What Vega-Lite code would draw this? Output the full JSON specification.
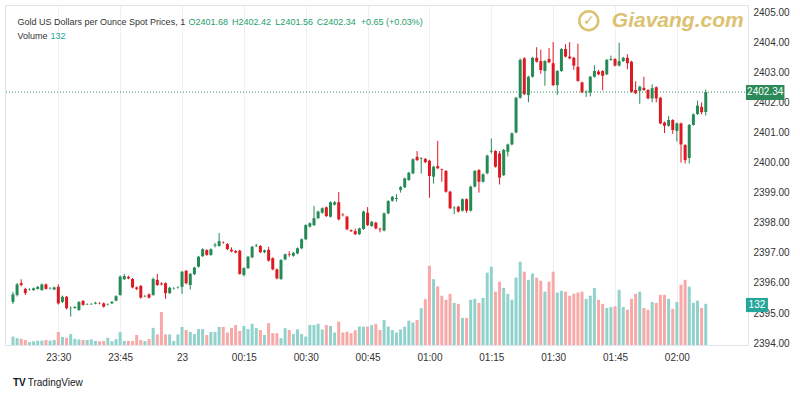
{
"$schema": "https://vega.github.io/schema/vega-lite/v6.json",
"width": 743, "height": 340,
"autosize": {"type": "none"},
"padding": {"left": 5, "top": 5, "right": 52, "bottom": 55},
"background": "white",
"config": {"view": {"stroke": "#e0e3eb"}, "font": "Liberation Sans", "axisY": {"tickCount": 12, "labelOverlap": false, "gridColor": "#f0f0f0"}},
"data": {"values": [
{"t":"2024-07-22T23:19Z","o":2395.37,"h":2395.70,"l":2395.30,"c":2395.62,"v":27},
{"t":"2024-07-22T23:20Z","o":2395.60,"h":2396.00,"l":2395.55,"c":2395.95,"v":22},
{"t":"2024-07-22T23:21Z","o":2395.99,"h":2396.12,"l":2395.88,"c":2395.93,"v":20},
{"t":"2024-07-22T23:22Z","o":2395.80,"h":2395.84,"l":2395.60,"c":2395.66,"v":16},
{"t":"2024-07-22T23:23Z","o":2395.77,"h":2395.82,"l":2395.74,"c":2395.78,"v":10},
{"t":"2024-07-22T23:24Z","o":2395.76,"h":2395.85,"l":2395.74,"c":2395.82,"v":12},
{"t":"2024-07-22T23:25Z","o":2395.80,"h":2395.90,"l":2395.78,"c":2395.87,"v":14},
{"t":"2024-07-22T23:26Z","o":2395.76,"h":2395.98,"l":2395.74,"c":2395.95,"v":14},
{"t":"2024-07-22T23:27Z","o":2395.95,"h":2395.98,"l":2395.78,"c":2395.80,"v":16},
{"t":"2024-07-22T23:28Z","o":2395.81,"h":2395.86,"l":2395.78,"c":2395.82,"v":14},
{"t":"2024-07-22T23:29Z","o":2395.78,"h":2395.88,"l":2395.76,"c":2395.85,"v":16},
{"t":"2024-07-22T23:30Z","o":2395.87,"h":2395.95,"l":2395.28,"c":2395.32,"v":42},
{"t":"2024-07-22T23:31Z","o":2395.37,"h":2395.58,"l":2395.33,"c":2395.54,"v":26},
{"t":"2024-07-22T23:32Z","o":2395.54,"h":2395.57,"l":2395.12,"c":2395.16,"v":23},
{"t":"2024-07-22T23:33Z","o":2395.16,"h":2395.22,"l":2394.88,"c":2395.17,"v":35},
{"t":"2024-07-22T23:34Z","o":2395.17,"h":2395.23,"l":2395.14,"c":2395.20,"v":20},
{"t":"2024-07-22T23:35Z","o":2395.10,"h":2395.40,"l":2395.07,"c":2395.36,"v":18},
{"t":"2024-07-22T23:36Z","o":2395.40,"h":2395.43,"l":2395.24,"c":2395.27,"v":16},
{"t":"2024-07-22T23:37Z","o":2395.28,"h":2395.32,"l":2395.26,"c":2395.29,"v":16},
{"t":"2024-07-22T23:38Z","o":2395.29,"h":2395.33,"l":2395.27,"c":2395.30,"v":18},
{"t":"2024-07-22T23:39Z","o":2395.31,"h":2395.37,"l":2395.29,"c":2395.34,"v":13},
{"t":"2024-07-22T23:40Z","o":2395.33,"h":2395.36,"l":2395.29,"c":2395.32,"v":12},
{"t":"2024-07-22T23:41Z","o":2395.32,"h":2395.35,"l":2395.18,"c":2395.21,"v":13},
{"t":"2024-07-22T23:42Z","o":2395.28,"h":2395.32,"l":2395.25,"c":2395.29,"v":23},
{"t":"2024-07-22T23:43Z","o":2395.32,"h":2395.40,"l":2395.30,"c":2395.37,"v":12},
{"t":"2024-07-22T23:44Z","o":2395.41,"h":2395.59,"l":2395.39,"c":2395.56,"v":19},
{"t":"2024-07-22T23:45Z","o":2395.60,"h":2396.25,"l":2395.57,"c":2396.21,"v":42},
{"t":"2024-07-22T23:46Z","o":2396.12,"h":2396.30,"l":2396.10,"c":2396.23,"v":13},
{"t":"2024-07-22T23:47Z","o":2396.20,"h":2396.24,"l":2396.12,"c":2396.15,"v":13},
{"t":"2024-07-22T23:48Z","o":2396.13,"h":2396.16,"l":2395.82,"c":2395.85,"v":13},
{"t":"2024-07-22T23:49Z","o":2395.85,"h":2395.88,"l":2395.76,"c":2395.80,"v":32},
{"t":"2024-07-22T23:50Z","o":2395.90,"h":2395.93,"l":2395.48,"c":2395.51,"v":16},
{"t":"2024-07-22T23:51Z","o":2395.55,"h":2395.60,"l":2395.52,"c":2395.56,"v":13},
{"t":"2024-07-22T23:52Z","o":2395.62,"h":2395.65,"l":2395.48,"c":2395.51,"v":19},
{"t":"2024-07-22T23:53Z","o":2395.60,"h":2396.18,"l":2395.57,"c":2396.13,"v":55},
{"t":"2024-07-22T23:54Z","o":2396.10,"h":2396.30,"l":2395.90,"c":2395.93,"v":34},
{"t":"2024-07-22T23:55Z","o":2395.98,"h":2396.02,"l":2395.92,"c":2395.95,"v":106},
{"t":"2024-07-22T23:56Z","o":2395.99,"h":2396.02,"l":2395.47,"c":2395.66,"v":34},
{"t":"2024-07-22T23:57Z","o":2395.66,"h":2395.87,"l":2395.63,"c":2395.84,"v":34},
{"t":"2024-07-22T23:58Z","o":2395.81,"h":2395.86,"l":2395.78,"c":2395.82,"v":13},
{"t":"2024-07-22T23:59Z","o":2395.84,"h":2395.89,"l":2395.81,"c":2395.85,"v":34},
{"t":"2024-07-23T00:00Z","o":2395.87,"h":2396.40,"l":2395.64,"c":2396.37,"v":58},
{"t":"2024-07-23T00:01Z","o":2396.40,"h":2396.43,"l":2395.95,"c":2395.99,"v":48},
{"t":"2024-07-23T00:02Z","o":2395.93,"h":2396.33,"l":2395.78,"c":2396.30,"v":42},
{"t":"2024-07-23T00:03Z","o":2396.29,"h":2396.54,"l":2396.26,"c":2396.51,"v":35},
{"t":"2024-07-23T00:04Z","o":2396.54,"h":2396.90,"l":2396.51,"c":2396.87,"v":51},
{"t":"2024-07-23T00:05Z","o":2396.89,"h":2397.15,"l":2396.86,"c":2397.12,"v":51},
{"t":"2024-07-23T00:06Z","o":2397.09,"h":2397.12,"l":2396.90,"c":2396.93,"v":32},
{"t":"2024-07-23T00:07Z","o":2396.93,"h":2397.15,"l":2396.90,"c":2397.12,"v":42},
{"t":"2024-07-23T00:08Z","o":2397.24,"h":2397.33,"l":2397.18,"c":2397.27,"v":42},
{"t":"2024-07-23T00:09Z","o":2397.23,"h":2397.66,"l":2397.20,"c":2397.39,"v":58},
{"t":"2024-07-23T00:10Z","o":2397.34,"h":2397.38,"l":2397.30,"c":2397.33,"v":58},
{"t":"2024-07-23T00:11Z","o":2397.29,"h":2397.32,"l":2397.09,"c":2397.12,"v":40},
{"t":"2024-07-23T00:12Z","o":2397.10,"h":2397.18,"l":2397.02,"c":2397.05,"v":55},
{"t":"2024-07-23T00:13Z","o":2397.06,"h":2397.09,"l":2396.98,"c":2397.01,"v":64},
{"t":"2024-07-23T00:14Z","o":2397.07,"h":2397.10,"l":2396.27,"c":2396.30,"v":45},
{"t":"2024-07-23T00:15Z","o":2396.26,"h":2396.52,"l":2396.22,"c":2396.49,"v":61},
{"t":"2024-07-23T00:16Z","o":2396.49,"h":2396.90,"l":2396.46,"c":2396.87,"v":51},
{"t":"2024-07-23T00:17Z","o":2396.85,"h":2397.23,"l":2396.82,"c":2397.20,"v":68},
{"t":"2024-07-23T00:18Z","o":2397.22,"h":2397.30,"l":2397.19,"c":2397.24,"v":55},
{"t":"2024-07-23T00:19Z","o":2397.23,"h":2397.26,"l":2396.99,"c":2397.02,"v":48},
{"t":"2024-07-23T00:20Z","o":2397.02,"h":2397.11,"l":2396.99,"c":2397.08,"v":32},
{"t":"2024-07-23T00:21Z","o":2397.10,"h":2397.20,"l":2396.71,"c":2396.74,"v":70},
{"t":"2024-07-23T00:22Z","o":2396.82,"h":2396.85,"l":2396.42,"c":2396.45,"v":38},
{"t":"2024-07-23T00:23Z","o":2396.45,"h":2396.48,"l":2396.12,"c":2396.15,"v":38},
{"t":"2024-07-23T00:24Z","o":2396.13,"h":2396.79,"l":2396.10,"c":2396.76,"v":22},
{"t":"2024-07-23T00:25Z","o":2396.78,"h":2396.98,"l":2396.75,"c":2396.95,"v":54},
{"t":"2024-07-23T00:26Z","o":2396.95,"h":2397.05,"l":2396.87,"c":2396.93,"v":48},
{"t":"2024-07-23T00:27Z","o":2396.90,"h":2397.03,"l":2396.87,"c":2397.00,"v":35},
{"t":"2024-07-23T00:28Z","o":2396.98,"h":2397.18,"l":2396.95,"c":2397.15,"v":50},
{"t":"2024-07-23T00:29Z","o":2397.15,"h":2397.48,"l":2397.12,"c":2397.45,"v":35},
{"t":"2024-07-23T00:30Z","o":2397.45,"h":2397.95,"l":2397.42,"c":2397.92,"v":27},
{"t":"2024-07-23T00:31Z","o":2397.87,"h":2398.01,"l":2397.84,"c":2397.98,"v":64},
{"t":"2024-07-23T00:32Z","o":2397.92,"h":2398.56,"l":2397.89,"c":2398.15,"v":64},
{"t":"2024-07-23T00:33Z","o":2398.15,"h":2398.40,"l":2398.12,"c":2398.37,"v":68},
{"t":"2024-07-23T00:34Z","o":2398.33,"h":2398.51,"l":2398.30,"c":2398.48,"v":50},
{"t":"2024-07-23T00:35Z","o":2398.51,"h":2398.54,"l":2398.19,"c":2398.22,"v":64},
{"t":"2024-07-23T00:36Z","o":2398.20,"h":2398.71,"l":2398.17,"c":2398.68,"v":61},
{"t":"2024-07-23T00:37Z","o":2398.60,"h":2398.72,"l":2398.57,"c":2398.68,"v":40},
{"t":"2024-07-23T00:38Z","o":2398.68,"h":2399.02,"l":2398.08,"c":2398.11,"v":75},
{"t":"2024-07-23T00:39Z","o":2398.27,"h":2398.31,"l":2398.21,"c":2398.25,"v":40},
{"t":"2024-07-23T00:40Z","o":2398.20,"h":2398.23,"l":2397.75,"c":2397.78,"v":43},
{"t":"2024-07-23T00:41Z","o":2397.75,"h":2397.78,"l":2397.69,"c":2397.72,"v":38},
{"t":"2024-07-23T00:42Z","o":2397.72,"h":2397.80,"l":2397.59,"c":2397.62,"v":47},
{"t":"2024-07-23T00:43Z","o":2397.62,"h":2397.84,"l":2397.59,"c":2397.81,"v":59},
{"t":"2024-07-23T00:44Z","o":2397.79,"h":2398.40,"l":2397.76,"c":2398.37,"v":59},
{"t":"2024-07-23T00:45Z","o":2398.33,"h":2398.52,"l":2397.89,"c":2397.92,"v":59},
{"t":"2024-07-23T00:46Z","o":2397.89,"h":2398.06,"l":2397.86,"c":2398.03,"v":64},
{"t":"2024-07-23T00:47Z","o":2398.00,"h":2398.03,"l":2397.78,"c":2397.81,"v":68},
{"t":"2024-07-23T00:48Z","o":2397.80,"h":2397.83,"l":2397.68,"c":2397.78,"v":48},
{"t":"2024-07-23T00:49Z","o":2397.74,"h":2398.34,"l":2397.71,"c":2398.31,"v":80},
{"t":"2024-07-23T00:50Z","o":2398.31,"h":2398.75,"l":2398.28,"c":2398.72,"v":59},
{"t":"2024-07-23T00:51Z","o":2398.73,"h":2398.89,"l":2398.70,"c":2398.86,"v":48},
{"t":"2024-07-23T00:52Z","o":2398.79,"h":2398.95,"l":2398.70,"c":2398.82,"v":40},
{"t":"2024-07-23T00:53Z","o":2399.09,"h":2399.22,"l":2399.00,"c":2399.18,"v":50},
{"t":"2024-07-23T00:54Z","o":2399.18,"h":2399.50,"l":2399.15,"c":2399.47,"v":59},
{"t":"2024-07-23T00:55Z","o":2399.42,"h":2399.69,"l":2399.39,"c":2399.66,"v":78},
{"t":"2024-07-23T00:56Z","o":2399.64,"h":2400.14,"l":2399.61,"c":2400.11,"v":72},
{"t":"2024-07-23T00:57Z","o":2400.19,"h":2400.38,"l":2400.05,"c":2400.08,"v":80},
{"t":"2024-07-23T00:58Z","o":2400.12,"h":2400.18,"l":2399.63,"c":2400.14,"v":118},
{"t":"2024-07-23T00:59Z","o":2400.12,"h":2400.15,"l":2399.98,"c":2400.01,"v":147},
{"t":"2024-07-23T01:00Z","o":2400.06,"h":2400.09,"l":2398.83,"c":2399.55,"v":254},
{"t":"2024-07-23T01:01Z","o":2399.53,"h":2399.89,"l":2399.30,"c":2399.86,"v":211},
{"t":"2024-07-23T01:02Z","o":2399.88,"h":2400.72,"l":2399.78,"c":2399.81,"v":188},
{"t":"2024-07-23T01:03Z","o":2399.77,"h":2399.80,"l":2399.36,"c":2399.75,"v":158},
{"t":"2024-07-23T01:04Z","o":2399.72,"h":2399.75,"l":2399.00,"c":2399.03,"v":145},
{"t":"2024-07-23T01:05Z","o":2399.03,"h":2399.06,"l":2398.45,"c":2398.48,"v":164},
{"t":"2024-07-23T01:06Z","o":2398.48,"h":2398.55,"l":2398.28,"c":2398.50,"v":135},
{"t":"2024-07-23T01:07Z","o":2398.53,"h":2398.56,"l":2398.34,"c":2398.37,"v":132},
{"t":"2024-07-23T01:08Z","o":2398.40,"h":2398.81,"l":2398.37,"c":2398.78,"v":87},
{"t":"2024-07-23T01:09Z","o":2398.78,"h":2398.81,"l":2398.33,"c":2398.40,"v":87},
{"t":"2024-07-23T01:10Z","o":2398.40,"h":2399.23,"l":2398.37,"c":2399.20,"v":145},
{"t":"2024-07-23T01:11Z","o":2399.20,"h":2399.75,"l":2399.17,"c":2399.72,"v":148},
{"t":"2024-07-23T01:12Z","o":2399.75,"h":2399.78,"l":2399.00,"c":2399.36,"v":135},
{"t":"2024-07-23T01:13Z","o":2399.36,"h":2399.64,"l":2399.33,"c":2399.61,"v":151},
{"t":"2024-07-23T01:14Z","o":2399.64,"h":2400.26,"l":2399.61,"c":2400.23,"v":232},
{"t":"2024-07-23T01:15Z","o":2400.36,"h":2400.80,"l":2400.30,"c":2400.39,"v":251},
{"t":"2024-07-23T01:16Z","o":2400.38,"h":2400.41,"l":2399.83,"c":2399.86,"v":171},
{"t":"2024-07-23T01:17Z","o":2400.30,"h":2400.38,"l":2399.27,"c":2399.50,"v":203},
{"t":"2024-07-23T01:18Z","o":2399.58,"h":2400.45,"l":2399.55,"c":2400.42,"v":183},
{"t":"2024-07-23T01:19Z","o":2400.36,"h":2400.63,"l":2400.20,"c":2400.60,"v":164},
{"t":"2024-07-23T01:20Z","o":2400.60,"h":2401.00,"l":2400.57,"c":2400.97,"v":145},
{"t":"2024-07-23T01:21Z","o":2401.00,"h":2402.18,"l":2400.97,"c":2402.15,"v":216},
{"t":"2024-07-23T01:22Z","o":2402.15,"h":2403.46,"l":2402.12,"c":2403.41,"v":267},
{"t":"2024-07-23T01:23Z","o":2403.46,"h":2403.50,"l":2402.24,"c":2402.27,"v":235},
{"t":"2024-07-23T01:24Z","o":2402.24,"h":2402.88,"l":2402.00,"c":2402.85,"v":209},
{"t":"2024-07-23T01:25Z","o":2402.85,"h":2403.51,"l":2402.82,"c":2403.48,"v":229},
{"t":"2024-07-23T01:26Z","o":2403.48,"h":2403.83,"l":2403.32,"c":2403.35,"v":216},
{"t":"2024-07-23T01:27Z","o":2403.37,"h":2403.75,"l":2402.95,"c":2403.07,"v":206},
{"t":"2024-07-23T01:28Z","o":2403.04,"h":2403.40,"l":2402.55,"c":2403.37,"v":171},
{"t":"2024-07-23T01:29Z","o":2403.44,"h":2403.80,"l":2403.30,"c":2403.33,"v":203},
{"t":"2024-07-23T01:30Z","o":2403.30,"h":2404.00,"l":2402.54,"c":2402.57,"v":235},
{"t":"2024-07-23T01:31Z","o":2402.57,"h":2403.07,"l":2402.24,"c":2403.04,"v":168},
{"t":"2024-07-23T01:32Z","o":2403.04,"h":2403.80,"l":2403.01,"c":2403.77,"v":174},
{"t":"2024-07-23T01:33Z","o":2403.77,"h":2403.93,"l":2403.49,"c":2403.52,"v":171},
{"t":"2024-07-23T01:34Z","o":2403.52,"h":2404.00,"l":2403.43,"c":2403.46,"v":158},
{"t":"2024-07-23T01:35Z","o":2403.48,"h":2403.51,"l":2403.08,"c":2403.22,"v":164},
{"t":"2024-07-23T01:36Z","o":2403.18,"h":2403.95,"l":2402.68,"c":2402.71,"v":168},
{"t":"2024-07-23T01:37Z","o":2402.66,"h":2402.69,"l":2402.30,"c":2402.33,"v":171},
{"t":"2024-07-23T01:38Z","o":2402.33,"h":2402.40,"l":2402.18,"c":2402.35,"v":148},
{"t":"2024-07-23T01:39Z","o":2402.33,"h":2402.88,"l":2402.20,"c":2402.85,"v":158},
{"t":"2024-07-23T01:40Z","o":2402.85,"h":2403.23,"l":2402.82,"c":2403.04,"v":183},
{"t":"2024-07-23T01:41Z","o":2403.02,"h":2403.08,"l":2402.90,"c":2402.93,"v":145},
{"t":"2024-07-23T01:42Z","o":2403.04,"h":2403.07,"l":2402.40,"c":2402.88,"v":132},
{"t":"2024-07-23T01:43Z","o":2402.93,"h":2403.44,"l":2402.90,"c":2403.41,"v":119},
{"t":"2024-07-23T01:44Z","o":2403.41,"h":2403.55,"l":2403.38,"c":2403.44,"v":122},
{"t":"2024-07-23T01:45Z","o":2403.44,"h":2403.47,"l":2403.19,"c":2403.22,"v":124},
{"t":"2024-07-23T01:46Z","o":2403.22,"h":2403.98,"l":2403.19,"c":2403.37,"v":177},
{"t":"2024-07-23T01:47Z","o":2403.37,"h":2403.51,"l":2403.34,"c":2403.48,"v":122},
{"t":"2024-07-23T01:48Z","o":2403.48,"h":2403.60,"l":2403.10,"c":2403.30,"v":113},
{"t":"2024-07-23T01:49Z","o":2403.35,"h":2403.38,"l":2402.32,"c":2402.35,"v":148},
{"t":"2024-07-23T01:50Z","o":2402.41,"h":2402.70,"l":2402.27,"c":2402.30,"v":164},
{"t":"2024-07-23T01:51Z","o":2402.38,"h":2402.55,"l":2401.95,"c":2402.52,"v":171},
{"t":"2024-07-23T01:52Z","o":2402.48,"h":2402.85,"l":2402.38,"c":2402.41,"v":119},
{"t":"2024-07-23T01:53Z","o":2402.41,"h":2402.44,"l":2402.10,"c":2402.13,"v":113},
{"t":"2024-07-23T01:54Z","o":2402.13,"h":2402.60,"l":2402.00,"c":2402.47,"v":138},
{"t":"2024-07-23T01:55Z","o":2402.50,"h":2402.53,"l":2402.00,"c":2402.13,"v":135},
{"t":"2024-07-23T01:56Z","o":2402.15,"h":2402.18,"l":2401.27,"c":2401.30,"v":161},
{"t":"2024-07-23T01:57Z","o":2401.33,"h":2401.36,"l":2400.98,"c":2401.22,"v":161},
{"t":"2024-07-23T01:58Z","o":2401.22,"h":2401.55,"l":2401.19,"c":2401.41,"v":148},
{"t":"2024-07-23T01:59Z","o":2401.41,"h":2401.44,"l":2400.95,"c":2401.08,"v":116},
{"t":"2024-07-23T02:00Z","o":2401.05,"h":2401.33,"l":2400.70,"c":2401.30,"v":138},
{"t":"2024-07-23T02:01Z","o":2401.30,"h":2401.33,"l":2400.00,"c":2400.60,"v":193},
{"t":"2024-07-23T02:02Z","o":2400.58,"h":2400.61,"l":2399.97,"c":2400.08,"v":209},
{"t":"2024-07-23T02:03Z","o":2400.15,"h":2401.28,"l":2399.97,"c":2401.25,"v":187},
{"t":"2024-07-23T02:04Z","o":2401.25,"h":2401.63,"l":2401.22,"c":2401.60,"v":135},
{"t":"2024-07-23T02:05Z","o":2401.61,"h":2402.06,"l":2401.58,"c":2401.89,"v":142},
{"t":"2024-07-23T02:06Z","o":2401.85,"h":2402.00,"l":2401.60,"c":2401.67,"v":119},
{"t":"2024-07-23T02:07Z","o":2401.68,"h":2402.42,"l":2401.56,"c":2402.34,"v":132}
]},
"layer": [
{
"mark": {"type": "bar", "size": 3},
"encoding": {
"x": {"field": "t", "type": "temporal",
"scale": {"type": "utc", "domain": [{"year":2024,"month":7,"date":22,"hours":23,"minutes":18,"seconds":17,"utc":true},{"year":2024,"month":7,"date":23,"hours":2,"minutes":16,"seconds":2,"utc":true}]},
"axis": {"title": null, "ticks": false, "domain": false, "labelPadding": 7, "labelFontSize": 10, "labelColor": "#333", "gridColor": "#f0f0f0", "labelOverlap": false,
"values": [{"year":2024,"month":7,"date":22,"hours":23,"minutes":30,"utc":true},{"year":2024,"month":7,"date":22,"hours":23,"minutes":45,"utc":true},{"year":2024,"month":7,"date":23,"hours":0,"minutes":0,"utc":true},{"year":2024,"month":7,"date":23,"hours":0,"minutes":15,"utc":true},{"year":2024,"month":7,"date":23,"hours":0,"minutes":30,"utc":true},{"year":2024,"month":7,"date":23,"hours":0,"minutes":45,"utc":true},{"year":2024,"month":7,"date":23,"hours":1,"minutes":0,"utc":true},{"year":2024,"month":7,"date":23,"hours":1,"minutes":15,"utc":true},{"year":2024,"month":7,"date":23,"hours":1,"minutes":30,"utc":true},{"year":2024,"month":7,"date":23,"hours":1,"minutes":45,"utc":true},{"year":2024,"month":7,"date":23,"hours":2,"minutes":0,"utc":true}],
"labelExpr": "utcFormat(datum.value, '%H:%M') === '00:00' ? utcFormat(datum.value, '%d') : utcFormat(datum.value, '%H:%M')"}},
"y": {"field": "v", "type": "quantitative", "scale": {"domain": [0, 1090], "nice": false}, "axis": null},
"color": {"condition": {"test": "datum.c >= datum.o", "value": "#92d2cc"}, "value": "#f7a9a7"}
}
},
{
"layer": [
{
"mark": {"type": "rule", "strokeWidth": 1},
"encoding": {
"x": {"field": "t", "type": "temporal"},
"y": {"field": "l", "type": "quantitative", "scale": {"domain": [2393.937, 2405.233], "nice": false, "zero": false},
"axis": {"orient": "right", "title": null, "ticks": false, "domain": false, "labelPadding": 5, "labelFontSize": 10, "labelColor": "#333", "gridColor": "#f0f0f0", "labelOverlap": false, "format": ".2f", "tickCount": 12, "values": [2394,2395,2396,2397,2398,2399,2400,2401,2402,2403,2404,2405]}},
"y2": {"field": "h"},
"color": {"condition": {"test": "datum.c >= datum.o", "value": "#268a57"}, "value": "#dd1a22"}
}
},
{
"mark": {"type": "bar", "size": 3},
"encoding": {
"x": {"field": "t", "type": "temporal"},
"y": {"field": "o", "type": "quantitative"},
"y2": {"field": "c"},
"color": {"condition": {"test": "datum.c >= datum.o", "value": "#268a57"}, "value": "#dd1a22"}
}
},
{
"data": {"values": [{}]},
"mark": {"type": "rule", "color": "#2e8b57", "strokeDash": [1, 2], "strokeWidth": 1},
"encoding": {"y": {"datum": 2402.34, "type": "quantitative"}}
},
{
"data": {"values": [{}]},
"mark": {"type": "text", "text": "Gold US Dollars per Ounce Spot Prices, 1", "align": "left", "baseline": "middle", "fontSize": 9, "color": "#333"},
"encoding": {"x": {"datum": {"year":2024,"month":7,"date":22,"hours":23,"minutes":20,"seconds":7,"utc":true}, "type": "temporal"}, "y": {"datum": 2404.67, "type": "quantitative"}}
},
{
"data": {"values": [{}]},
"mark": {"type": "text", "text": "O2401.68", "align": "left", "baseline": "middle", "fontSize": 9, "color": "#26a06a"},
"encoding": {"x": {"datum": {"year":2024,"month":7,"date":23,"hours":0,"minutes":1,"seconds":35,"utc":true}, "type": "temporal"}, "y": {"datum": 2404.67, "type": "quantitative"}}
},
{
"data": {"values": [{}]},
"mark": {"type": "text", "text": "H2402.42", "align": "left", "baseline": "middle", "fontSize": 9, "color": "#26a06a"},
"encoding": {"x": {"datum": {"year":2024,"month":7,"date":23,"hours":0,"minutes":12,"seconds":7,"utc":true}, "type": "temporal"}, "y": {"datum": 2404.67, "type": "quantitative"}}
},
{
"data": {"values": [{}]},
"mark": {"type": "text", "text": "L2401.56", "align": "left", "baseline": "middle", "fontSize": 9, "color": "#26a06a"},
"encoding": {"x": {"datum": {"year":2024,"month":7,"date":23,"hours":0,"minutes":22,"seconds":38,"utc":true}, "type": "temporal"}, "y": {"datum": 2404.67, "type": "quantitative"}}
},
{
"data": {"values": [{}]},
"mark": {"type": "text", "text": "C2402.34", "align": "left", "baseline": "middle", "fontSize": 9, "color": "#26a06a"},
"encoding": {"x": {"datum": {"year":2024,"month":7,"date":23,"hours":0,"minutes":32,"seconds":40,"utc":true}, "type": "temporal"}, "y": {"datum": 2404.67, "type": "quantitative"}}
},
{
"data": {"values": [{}]},
"mark": {"type": "text", "text": "+0.65 (+0.03%)", "align": "left", "baseline": "middle", "fontSize": 9, "color": "#26a06a"},
"encoding": {"x": {"datum": {"year":2024,"month":7,"date":23,"hours":0,"minutes":43,"seconds":20,"utc":true}, "type": "temporal"}, "y": {"datum": 2404.67, "type": "quantitative"}}
},
{
"data": {"values": [{}]},
"mark": {"type": "text", "text": "Volume", "align": "left", "baseline": "middle", "fontSize": 9, "color": "#333"},
"encoding": {"x": {"datum": {"year":2024,"month":7,"date":22,"hours":23,"minutes":20,"seconds":7,"utc":true}, "type": "temporal"}, "y": {"datum": 2404.2, "type": "quantitative"}}
},
{
"data": {"values": [{}]},
"mark": {"type": "text", "text": "132", "align": "left", "baseline": "middle", "fontSize": 9, "color": "#26a69a"},
"encoding": {"x": {"datum": {"year":2024,"month":7,"date":22,"hours":23,"minutes":28,"seconds":5,"utc":true}, "type": "temporal"}, "y": {"datum": 2404.2, "type": "quantitative"}}
},
{
"data": {"values": [{}]},
"mark": {"type": "rect", "color": "#2b8a57"},
"encoding": {"x": {"datum": {"year":2024,"month":7,"date":23,"hours":2,"minutes":16,"seconds":45,"utc":true}, "type": "temporal"}, "x2": {"datum": {"year":2024,"month":7,"date":23,"hours":2,"minutes":26,"seconds":5,"utc":true}}, "y": {"datum": 2402.575, "type": "quantitative"}, "y2": {"datum": 2402.076}}
},
{
"data": {"values": [{}]},
"mark": {"type": "text", "text": "2402.34", "align": "center", "baseline": "middle", "fontSize": 10, "color": "white"},
"encoding": {"x": {"datum": {"year":2024,"month":7,"date":23,"hours":2,"minutes":21,"seconds":25,"utc":true}, "type": "temporal"}, "y": {"datum": 2402.33, "type": "quantitative"}}
},
{
"data": {"values": [{}]},
"mark": {"type": "rect", "color": "#26a69a"},
"encoding": {"x": {"datum": {"year":2024,"month":7,"date":23,"hours":2,"minutes":16,"seconds":45,"utc":true}, "type": "temporal"}, "x2": {"datum": {"year":2024,"month":7,"date":23,"hours":2,"minutes":22,"seconds":5,"utc":true}}, "y": {"datum": 2395.50, "type": "quantitative"}, "y2": {"datum": 2395.03}}
},
{
"data": {"values": [{}]},
"mark": {"type": "text", "text": "132", "align": "center", "baseline": "middle", "fontSize": 10, "color": "white"},
"encoding": {"x": {"datum": {"year":2024,"month":7,"date":23,"hours":2,"minutes":19,"seconds":25,"utc":true}, "type": "temporal"}, "y": {"datum": 2395.27, "type": "quantitative"}}
},
{
"data": {"values": [{}]},
"mark": {"type": "text", "text": "Giavang.com", "align": "left", "baseline": "middle", "fontSize": 21, "fontWeight": "bold", "fontStyle": "italic", "color": "#d9bb62", "opacity": 0.9},
"encoding": {"x": {"datum": {"year":2024,"month":7,"date":23,"hours":1,"minutes":44,"seconds":13,"utc":true}, "type": "temporal"}, "y": {"datum": 2404.71, "type": "quantitative"}}
},
{
"data": {"values": [{}]},
"mark": {"type": "point", "shape": "circle", "filled": false, "size": 360, "strokeWidth": 2.5, "color": "#d9bb62", "opacity": 0.9},
"encoding": {"x": {"datum": {"year":2024,"month":7,"date":23,"hours":1,"minutes":38,"seconds":38,"utc":true}, "type": "temporal"}, "y": {"datum": 2404.71, "type": "quantitative"}}
},
{
"data": {"values": [{}]},
"mark": {"type": "text", "text": "✓", "align": "center", "baseline": "middle", "fontSize": 14, "font": "DejaVu Sans", "fontWeight": "bold", "color": "#d9bb62"},
"encoding": {"x": {"datum": {"year":2024,"month":7,"date":23,"hours":1,"minutes":38,"seconds":38,"utc":true}, "type": "temporal"}, "y": {"datum": 2404.71, "type": "quantitative"}}
},
{
"data": {"values": [{}]},
"mark": {"type": "text", "text": "TV", "align": "left", "baseline": "middle", "fontSize": 10, "fontWeight": "bold", "color": "#131722"},
"encoding": {"x": {"datum": {"year":2024,"month":7,"date":22,"hours":23,"minutes":19,"seconds":0,"utc":true}, "type": "temporal"}, "y": {"datum": 2392.67, "type": "quantitative"}}
},
{
"data": {"values": [{}]},
"mark": {"type": "text", "text": "TradingView", "align": "left", "baseline": "middle", "fontSize": 10, "color": "#131722"},
"encoding": {"x": {"datum": {"year":2024,"month":7,"date":22,"hours":23,"minutes":22,"seconds":35,"utc":true}, "type": "temporal"}, "y": {"datum": 2392.67, "type": "quantitative"}}
}
]
}
],
"resolve": {"scale": {"y": "independent"}}
}
